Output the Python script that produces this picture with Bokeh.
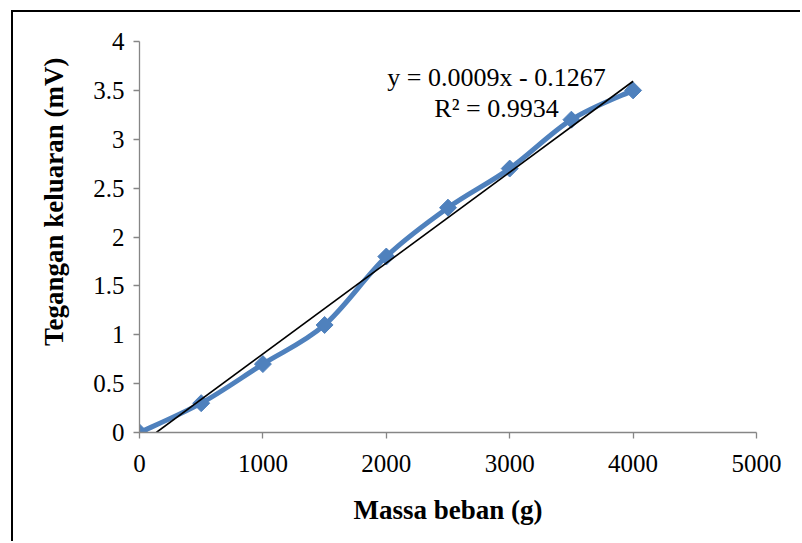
import numpy as np
from bokeh.plotting import figure
from bokeh.models import Range1d, FixedTicker, Label, Title
from bokeh.embed import file_html
from bokeh.resources import INLINE

# ---- data ----
mass = [0, 500, 1000, 1500, 2000, 2500, 3000, 3500, 4000]
voltage = [0, 0.3, 0.7, 1.1, 1.8, 2.3, 2.7, 3.2, 3.5]
x_ticks = [0, 1000, 2000, 3000, 4000, 5000]
x_tick_labels = ["0", "1000", "2000", "3000", "4000", "5000"]
y_ticks = [0, 0.5, 1, 1.5, 2, 2.5, 3, 3.5, 4]
y_tick_labels = ["0", "0.5", "1", "1.5", "2", "2.5", "3", "3.5", "4"]
eq_text = "y = 0.0009x - 0.1267"
r2_text = "R\u00b2 = 0.9934"
x_title = "Massa beban (g)"
y_title = "Tegangan keluaran (mV)"

FONT = "Liberation Serif"
BLUE = "#4F81BD"
AXIS = "#868686"

p = figure(width=789, height=531, output_backend="svg", toolbar_location=None,
           x_range=Range1d(0, 5000), y_range=Range1d(0, 4),
           min_border_left=126, min_border_right=46, min_border_top=29, min_border_bottom=111)
p.styles = {"margin-left": "13px", "margin-top": "12px",
            "box-shadow": "-2px -2px 0 0 black"}
p.outline_line_color = None
p.grid.visible = False
p.background_fill_color = "white"
p.border_fill_color = "white"

for ax, ticks, labels in ((p.xaxis[0], x_ticks, x_tick_labels), (p.yaxis[0], y_ticks, y_tick_labels)):
    ax.ticker = FixedTicker(ticks=ticks)
    ax.major_label_overrides = {t: l for t, l in zip(ticks, labels)}
    ax.minor_tick_line_color = None
    ax.major_tick_in = 0
    ax.major_tick_out = 6
    ax.axis_line_color = AXIS
    ax.major_tick_line_color = AXIS
    ax.axis_line_width = 1.3
    ax.major_tick_line_width = 1.3
    ax.major_label_text_font = FONT
    ax.major_label_text_font_size = "25px"
    ax.major_label_text_color = "black"
    ax.axis_label_text_font = FONT
    ax.axis_label_text_font_size = "27px"
    ax.axis_label_text_font_style = "bold"
    ax.axis_label_text_color = "black"

p.xaxis[0].axis_label = x_title
p.xaxis[0].major_label_standoff = 16
p.xaxis[0].axis_label_standoff = 20
p.yaxis[0].major_label_standoff = 9

# y-axis title (placed off-centre, as in the original chart)
p.add_layout(Title(text=y_title, align="right", offset=16, standoff=42,
                   vertical_align="middle",
                   text_font=FONT, text_font_size="27px", text_font_style="bold",
                   text_color="black"), "left")

# smoothed series (Excel-style Bezier through the points)
xs = np.array(mass, dtype=float)
ys = np.array(voltage, dtype=float)
n = len(xs)
x0, y0, x1, y1, cx0, cy0, cx1, cy1 = ([] for _ in range(8))
for i in range(n - 1):
    a = max(i - 1, 0)
    d = min(i + 2, n - 1)
    x0.append(xs[i]); y0.append(ys[i])
    x1.append(xs[i + 1]); y1.append(ys[i + 1])
    cx0.append(xs[i] + (xs[i + 1] - xs[a]) / 6); cy0.append(ys[i] + (ys[i + 1] - ys[a]) / 6)
    cx1.append(xs[i + 1] - (xs[d] - xs[i]) / 6); cy1.append(ys[i + 1] - (ys[d] - ys[i]) / 6)
p.bezier(x0=x0, y0=y0, x1=x1, y1=y1, cx0=cx0, cy0=cy0, cx1=cx1, cy1=cy1,
         line_color=BLUE, line_width=5, line_cap="round", line_join="round")
p.scatter(mass, voltage, marker="square", size=12, angle=np.pi / 4,
          fill_color=BLUE, line_color=BLUE)

# linear trendline (least squares fit of the data)
m, b = np.polyfit(xs, ys, 1)
tx0 = max(0.0, -b / m)
p.line([tx0, xs.max()], [m * tx0 + b, m * xs.max() + b], line_color="black", line_width=1.6)

p.add_layout(Label(x=2893, y=3.632, text=eq_text, text_align="center", text_baseline="middle",
                   text_font=FONT, text_font_size="26px", text_color="black"))
p.add_layout(Label(x=2893, y=3.315, text=r2_text, text_align="center", text_baseline="middle",
                   text_font=FONT, text_font_size="26px", text_color="black"))

open("out.html", "w").write(file_html(p, INLINE))
